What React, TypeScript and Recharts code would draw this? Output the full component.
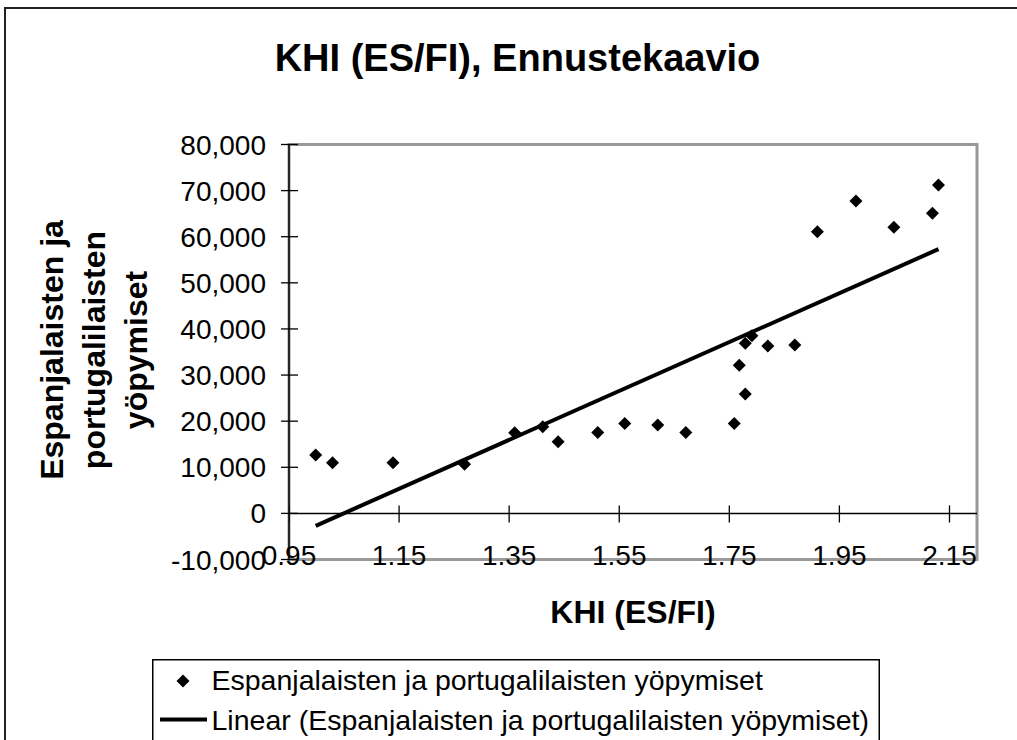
import React from 'react';
import {
  ScatterChart,
  Scatter,
  XAxis,
  YAxis,
  Legend,
  ReferenceLine,
  ReferenceArea,
} from 'recharts';

// KHI (ES/FI) values and overnight stays
const khi = [
  0.9985, 1.029, 1.139, 1.269, 1.36, 1.411, 1.439, 1.511, 1.56, 1.62, 1.671, 1.759,
  1.768, 1.779, 1.779, 1.791, 1.82, 1.869, 1.91, 1.98, 2.049, 2.119, 2.13,
];
const yopymiset = [
  12650, 11000, 11000, 10650, 17500, 18800, 15550, 17550, 19500, 19150, 17550, 19500,
  32150, 25900, 36900, 38500, 36300, 36500, 61100, 67750, 62050, 65100, 71200,
];

// linear trend line end points
const trendX = [0.9985, 2.13];
const trendY = [-2700, 57300];

const xTicks = [0.95, 1.15, 1.35, 1.55, 1.75, 1.95, 2.15];
const yTicks = [-10000, 0, 10000, 20000, 30000, 40000, 50000, 60000, 70000, 80000];

const seriesName = 'Espanjalaisten ja portugalilaisten yöpymiset';
const trendName = 'Linear (Espanjalaisten ja portugalilaisten yöpymiset)';

const points = khi.map((x, i) => ({ x, y: yopymiset[i] }));
const trend = trendX.map((x, i) => ({ x, y: trendY[i] }));
const xTickMarks = xTicks.map((x) => ({ x, y: 0 }));

const FONT = '"Liberation Sans", Arial, sans-serif';

const Diamond = (props: any) => {
  const { cx, cy } = props;
  const r = 6.5;
  return (
    <polygon
      points={`${cx},${cy - r} ${cx + r},${cy} ${cx},${cy + r} ${cx - r},${cy}`}
      fill="#000"
    />
  );
};

const TickMark = (props: any) => {
  const { cx, cy } = props;
  return <line x1={cx} x2={cx} y1={cy - 8} y2={cy + 9} stroke="#000" strokeWidth={1.3} />;
};

const YTick = (props: any) => {
  const { x, y, payload } = props;
  return (
    <g>
      <line x1={x - 8} x2={x + 9} y1={y} y2={y} stroke="#000" strokeWidth={1.3} />
      <text x={x - 23} y={y + 10} textAnchor="end" fontSize={28} fontFamily={FONT} fill="#000">
        {payload.value.toLocaleString('en-US')}
      </text>
    </g>
  );
};

const XTick = (props: any) => {
  const { x, y, payload } = props;
  return (
    <text x={x} y={y + 5.5} textAnchor="middle" fontSize={28} fontFamily={FONT} fill="#000">
      {payload.value.toFixed(2)}
    </text>
  );
};

const LegendBox = () => (
  <svg width={728} height={81} style={{ display: 'block' }}>
    <rect x={0.75} y={0.75} width={726.5} height={140} fill="#fff" stroke="#000" strokeWidth={1.5} />
    <polygon points="31,15.5 37.5,22 31,28.5 24.5,22" fill="#000" />
    <text x={59.5} y={31} fontSize={28.5} fontFamily={FONT} fill="#000">
      {seriesName}
    </text>
    <line x1={8} x2={55} y1={60.5} y2={60.5} stroke="#000" strokeWidth={4} />
    <text x={59.5} y={71} fontSize={28.5} fontFamily={FONT} fill="#000">
      {trendName}
    </text>
  </svg>
);

export default function App() {
  return (
    <div style={{ position: 'absolute', left: 0, top: 0, width: 1017, height: 740, overflow: 'hidden', background: '#fff' }}>
      <ScatterChart
        width={1017}
        height={740}
        margin={{ top: 144.5, right: 40, bottom: 150.5, left: 189 }}
        style={{ fontFamily: FONT }}
      >
        <text x={517.5} y={71} textAnchor="middle" fontSize={38} fontWeight="bold" fontFamily={FONT} fill="#000">
          KHI (ES/FI), Ennustekaavio
        </text>
        <text x={633} y={623} textAnchor="middle" fontSize={32} fontWeight="bold" fontFamily={FONT} fill="#000">
          KHI (ES/FI)
        </text>
        <text
          transform="translate(105,350) rotate(-90)"
          textAnchor="middle"
          fontSize={32}
          fontWeight="bold"
          fontFamily={FONT}
          fill="#000"
        >
          <tspan x={0} y={-42}>Espanjalaisten ja</tspan>
          <tspan x={0} y={0}>portugalilaisten</tspan>
          <tspan x={0} y={42}>yöpymiset</tspan>
        </text>
        <ReferenceArea
          x1={0.95}
          x2={2.2}
          y1={-10000}
          y2={80000}
          fill="none"
          stroke="#999"
          strokeWidth={3}
          ifOverflow="visible"
        />
        <XAxis
          type="number"
          dataKey="x"
          domain={[0.95, 2.2]}
          ticks={xTicks}
          allowDataOverflow
          axisLine={false}
          tickLine={false}
          tickSize={0}
          tickMargin={0}
          height={30}
          tick={<XTick />}
          interval={0}
        />
        <YAxis
          type="number"
          dataKey="y"
          domain={[-10000, 80000]}
          ticks={yTicks}
          allowDataOverflow
          axisLine={{ stroke: '#000', strokeWidth: 1.5 }}
          tickLine={false}
          tickSize={0}
          tickMargin={0}
          width={100}
          tick={<YTick />}
          interval={0}
        />
        <ReferenceLine y={0} stroke="#000" strokeWidth={1.5} />
        <Scatter data={xTickMarks} shape={<TickMark />} isAnimationActive={false} legendType="none" />
        <Scatter
          name={trendName}
          data={trend}
          line={{ stroke: '#000', strokeWidth: 4 }}
          shape={() => <g />}
          isAnimationActive={false}
        />
        <Scatter name={seriesName} data={points} shape={<Diamond />} isAnimationActive={false} />
        <Legend
          layout="horizontal"
          verticalAlign="middle"
          align="center"
          content={<LegendBox />}
          wrapperStyle={{ position: 'absolute', left: 152, top: 659, width: 728, height: 81 }}
        />
      </ScatterChart>
      <div
        style={{
          position: 'absolute',
          left: 4,
          top: 7,
          width: 1100,
          height: 900,
          borderLeft: '2px solid #222',
          borderTop: '2px solid #222',
          pointerEvents: 'none',
        }}
      />
    </div>
  );
}
